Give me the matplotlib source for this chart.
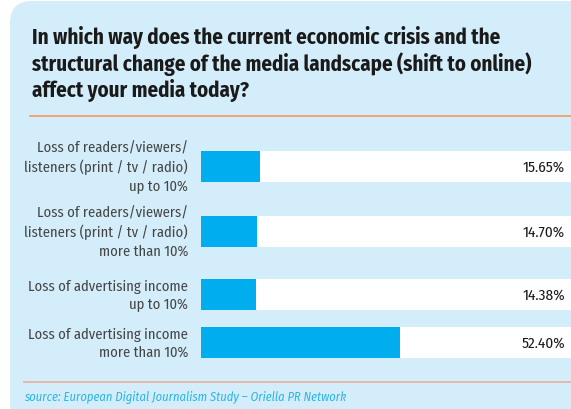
import matplotlib
matplotlib.use("Agg")
import matplotlib.pyplot as plt
from matplotlib.patches import FancyBboxPatch
from matplotlib.lines import Line2D

W, H = 571, 410
DPI = 100

title = ("In which way does the current economic crisis and the\n"
         "structural change of the media landscape (shift to online)\n"
         "affect your media today?")
categories = [
    "Loss of readers/viewers/\nlisteners (print / tv / radio)\nup to 10%",
    "Loss of readers/viewers/\nlisteners (print / tv / radio)\nmore than 10%",
    "Loss of advertising income\nup to 10%",
    "Loss of advertising income\nmore than 10%",
]
values = [15.65, 14.70, 14.38, 52.40]
source = "source: European Digital Journalism Study \u2013 Oriella PR Network"

PANEL = "#d3eefa"
BAR = "#00aeef"
FONT = ["Fira Sans Condensed", "DejaVu Sans"]

fig = plt.figure(figsize=(W / DPI, H / DPI), dpi=DPI)
fig.patch.set_facecolor("white")

# light blue panel, rounded top-right corner
bg = fig.add_axes([0, 0, 1, 1])
bg.set_xlim(0, W)
bg.set_ylim(H, 0)
bg.axis("off")
bg.add_patch(FancyBboxPatch((10, 2), W + 40, H + 40,
                            boxstyle="round,pad=0,rounding_size=22",
                            fc=PANEL, ec="none"))
bg.add_line(Line2D([30, W], [117, 117], color="#f4a06a", lw=1.3))
bg.add_line(Line2D([24, W], [383, 383], color="#e9b4a6", lw=1.3))

px = bg.transData  # pixel coordinates, origin top-left
fig.text(32, 26, title, transform=px, fontsize=15, fontweight="bold",
         color="#1a1a1a", family=FONT, va="top", ha="left", linespacing=1.18)
fig.text(24, 398, source, transform=px, fontsize=9, style="italic",
         color="#2ab4e8", family=FONT, va="center", ha="left")

# bar area
x0 = 201
scale = 3.8  # px per percent
ax = fig.add_axes([x0 / W, 0, 1 - x0 / W, 1])
ax.set_xlim(0, (W - x0) / scale)
ax.set_ylim(H, 0)
ax.axis("off")

centers = [167.5, 232.5, 295.5, 343.5]
bar_h = 31
ax.barh(centers, [(W - x0) / scale] * len(values), height=bar_h, color="white")
ax.barh(centers, values, height=bar_h, color=BAR)

for c, v, lab in zip(centers, values, categories):
    fig.text(188, c, lab, transform=px, fontsize=10.5, color="#454545",
             family=FONT, ha="right", va="center", linespacing=1.35)
    fig.text(565, c, f"{v:.2f}%", transform=px, fontsize=11, color="#1a1a1a",
             family=FONT, ha="right", va="center")

fig.savefig("out.png", dpi=DPI)
